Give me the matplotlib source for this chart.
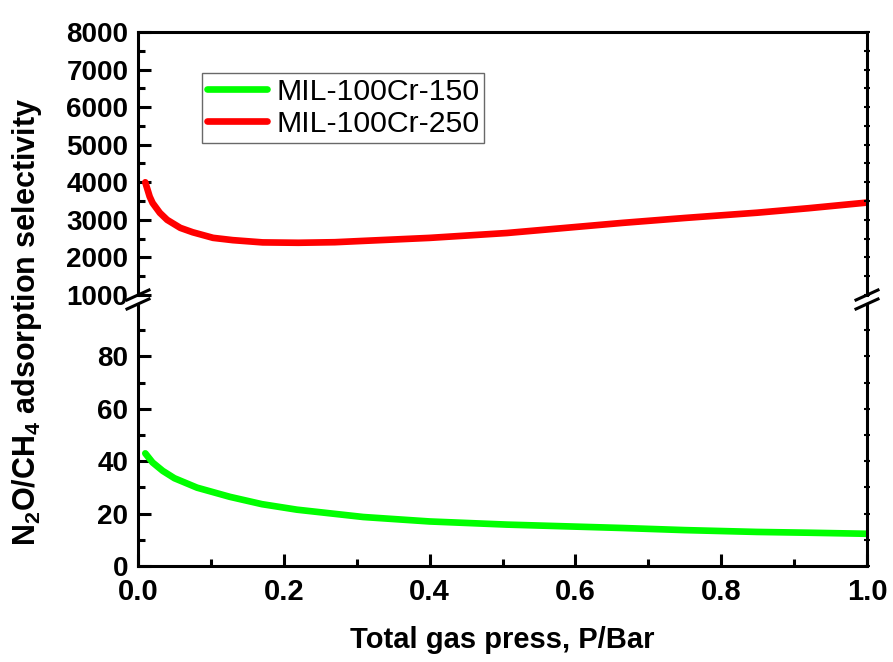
import matplotlib
matplotlib.use('Agg')
import matplotlib.pyplot as plt
from matplotlib.lines import Line2D
from matplotlib.ticker import MultipleLocator, FixedLocator, FormatStrFormatter

plt.rcParams['font.family'] = ['Liberation Sans', 'DejaVu Sans']
plt.rcParams['mathtext.fontset'] = 'custom'
plt.rcParams['mathtext.rm'] = 'Liberation Sans'
plt.rcParams['mathtext.default'] = 'regular'

# MIL-100Cr-250 (upper panel)
x_250 = [0.01, 0.016, 0.02, 0.03, 0.04, 0.058, 0.075, 0.103, 0.13, 0.171, 0.22, 0.27,
         0.309, 0.40, 0.506, 0.665, 0.75, 0.849, 0.92, 1.0]
y_250 = [4000, 3620, 3450, 3186, 3000, 2787, 2670, 2521, 2460, 2400, 2390, 2405,
         2440, 2520, 2650, 2920, 3050, 3190, 3310, 3460]

# MIL-100Cr-150 (lower panel)
x_150 = [0.01, 0.02, 0.034, 0.05, 0.081, 0.126, 0.17, 0.218, 0.309, 0.40, 0.506,
         0.665, 0.75, 0.849, 0.92, 1.0]
y_150 = [43, 39.5, 36.3, 33.5, 29.9, 26.4, 23.6, 21.5, 18.7, 17.0, 15.8,
         14.5, 13.7, 13.0, 12.7, 12.3]

labels = ['MIL-100Cr-150', 'MIL-100Cr-250']
colors = ['#00ff00', '#ff0000']

W, H = 893, 662
fig = plt.figure(figsize=(W / 100, H / 100), dpi=100)

left, right = 138, 867
top_px, brk_hi, brk_lo, bot_px = 32, 295, 304, 566

def box(y0, y1):
    return [left / W, 1 - y1 / H, (right - left) / W, (y1 - y0) / H]

ax_top = fig.add_axes(box(top_px, brk_hi))
ax_bot = fig.add_axes(box(brk_lo, bot_px))

lw = 4.8
ax_bot.plot(x_150, y_150, color=colors[0], lw=lw, solid_capstyle='round', label=labels[0])
ax_top.plot(x_250, y_250, color=colors[1], lw=lw, solid_capstyle='round', label=labels[1])

ax_top.set_ylim(1000, 8000)
ax_bot.set_ylim(0, 100)
for ax in (ax_top, ax_bot):
    ax.set_xlim(0, 1)
    for s in ax.spines.values():
        s.set_linewidth(2.2)
    ax.xaxis.set_major_locator(MultipleLocator(0.2))
    ax.xaxis.set_minor_locator(MultipleLocator(0.1))
    ax.xaxis.set_major_formatter(FormatStrFormatter('%.1f'))

ax_top.spines['bottom'].set_visible(False)
ax_bot.spines['top'].set_visible(False)

ax_top.yaxis.set_major_locator(MultipleLocator(1000))
ax_top.yaxis.set_minor_locator(MultipleLocator(500))
ax_bot.yaxis.set_major_locator(FixedLocator([0, 20, 40, 60, 80]))
ax_bot.yaxis.set_minor_locator(FixedLocator([10, 30, 50, 70, 90]))

ax_top.tick_params(axis='x', which='both', bottom=False, top=False, labelbottom=False)
ax_bot.tick_params(axis='x', which='both', bottom=True, top=False, direction='in')
for ax in (ax_top, ax_bot):
    ax.tick_params(axis='y', which='both', left=True, right=False, direction='in')
    ax.tick_params(which='major', length=9, width=2.2, labelsize=20, pad=7)
    ax.tick_params(which='minor', length=5, width=2.2)
ax_bot.tick_params(axis='x', which='major', pad=9, labelsize=21)

for ax in (ax_top, ax_bot):
    for t in ax.get_xticklabels() + ax.get_yticklabels():
        t.set_fontweight('bold')

# short nubs on the right spine
for ax in (ax_top, ax_bot):
    tw = ax.twinx()
    tw.set_ylim(ax.get_ylim())
    tw.yaxis.set_major_locator(ax.yaxis.get_major_locator())
    tw.yaxis.set_minor_locator(ax.yaxis.get_minor_locator())
    tw.tick_params(axis='y', which='both', direction='inout', length=4, width=1.5,
                   labelright=False)
    for s in tw.spines.values():
        s.set_visible(False)

# break marks
for xp in (left, right):
    for yp in (brk_hi, brk_lo):
        fig.add_artist(Line2D([(xp - 11) / W, (xp + 11) / W],
                              [1 - (yp + 5) / H, 1 - (yp - 5) / H],
                              transform=fig.transFigure, color='black', lw=2.2))

ax_bot.set_xlabel('Total gas press, P/Bar', fontsize=21, fontweight='bold', labelpad=14)
fig.text(27 / W, 1 - 322 / H, r'N$_2$O/CH$_4$ adsorption selectivity', rotation=90,
         fontsize=22, fontweight='bold', ha='center', va='center')

handles = [Line2D([], [], color=c, lw=lw, solid_capstyle='round') for c in colors]
leg = ax_top.legend(handles, labels, loc='upper left',
                    bbox_to_anchor=(64 / (right - left), 1 - 41 / (brk_hi - top_px)),
                    fontsize=21.8, frameon=True, fancybox=False, edgecolor='#444444',
                    handlelength=2.0, handletextpad=0.3, borderpad=0.15, labelspacing=0.15,
                    borderaxespad=0)
leg.get_frame().set_linewidth(1.0)

fig.savefig('out.png', dpi=100)
